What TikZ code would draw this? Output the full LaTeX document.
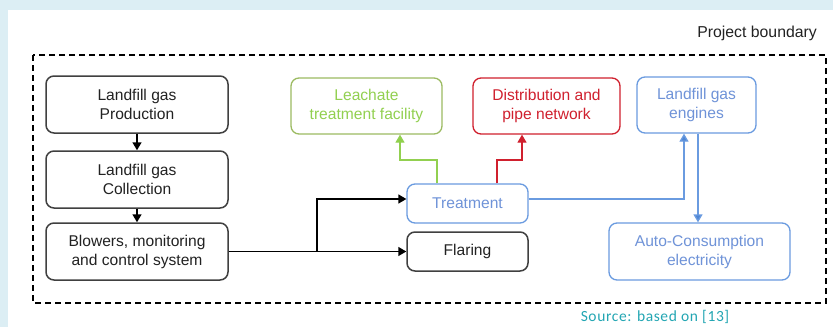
\documentclass[tikz,border=0pt]{standalone}
\usepackage{fontspec}
\setmainfont{Liberation Sans}
\newfontfamily\srcfont[LetterSpace=4]{Carlito}
\usetikzlibrary{arrows.meta,calc}
\definecolor{bgblue}{HTML}{DCEEF4}
\definecolor{grnline}{HTML}{9CBB62}
\definecolor{grntext}{HTML}{92D050}
\definecolor{grnarrow}{HTML}{8FD04A}
\definecolor{redc}{HTML}{D0202E}
\definecolor{bluel}{HTML}{6A9BE0}
\definecolor{bluet}{HTML}{6F93D8}
\definecolor{bluea}{HTML}{4F86D4}
\definecolor{srccol}{HTML}{23A6B3}
\definecolor{darkbox}{HTML}{404040}
\definecolor{txtdark}{HTML}{222222}
\tikzset{
  box/.style={draw=darkbox, text=txtdark, line width=1.5pt, rounded corners=8pt, align=center,
    font=\fontsize{15.6}{19}\selectfont, inner sep=0pt},
  grnbox/.style={box, draw=grnline, text=grntext, line width=1.3pt},
  redbox/.style={box, draw=redc, text=redc, line width=1.3pt},
  bluebox/.style={box, draw=bluel, text=bluet, line width=1.3pt},
  blk/.style={line width=1.5pt, -{Triangle[length=8pt,width=9pt]}},
  grnarr/.style={draw=grntext, line width=1.3pt, -{Triangle[length=8pt,width=9pt,fill=grnarrow]}},
  redarr/.style={draw=redc, line width=1.3pt, -{Triangle[length=8pt,width=9pt]}},
  bluearr/.style={draw=bluel, line width=1.3pt, -{Triangle[length=8pt,width=9pt,fill=bluea]}},
}
\begin{document}
\begin{tikzpicture}[x=1pt,y=-1pt]
\useasboundingbox (0,0) rectangle (833,327);
\fill[bgblue] (0,0) rectangle (833,327);
\fill[white] (8,10) rectangle (833,327);
% project boundary
\draw[line width=1.5pt, dash pattern=on 6pt off 4pt] (33,55) rectangle (826,303);
\node[anchor=east, text=txtdark, font=\fontsize{15.8}{19}\selectfont, inner sep=0pt] (pb) at (817,33) {Project boundary};
% left column
\node[box, minimum width=182pt, minimum height=57pt] (prod) at (137,104.5) {Landfill gas\\Production};
\node[box, minimum width=182pt, minimum height=57pt] (coll) at (137,179.5) {Landfill gas\\Collection};
\node[box, minimum width=182pt, minimum height=57pt] (blow) at (137,251.5) {Blowers, monitoring\\and control system};
% middle
\node[bluebox, minimum width=121pt, minimum height=39pt] (treat) at (467.5,203.5) {Treatment};
\node[box, minimum width=121pt, minimum height=39pt] (flare) at (467.5,251.5) {Flaring};
% top row
\node[grnbox, minimum width=151pt, minimum height=56pt] (leach) at (366.5,106) {Leachate\\treatment facility};
\node[redbox, minimum width=147pt, minimum height=56pt] (dist) at (546.5,106) {Distribution and\\pipe network};
\node[bluebox, minimum width=119pt, minimum height=56pt] (eng) at (696.5,105) {Landfill gas\\engines};
\node[bluebox, minimum width=181pt, minimum height=57pt] (auto) at (699.5,251.5) {Auto-Consumption\\electricity};
% source
\node[font=\srcfont\fontsize{15.5}{17}\selectfont, text=srccol, inner sep=0pt] (src) at (655,317) {Source: based on [13]};
% connectors
\draw[blk] (prod.south) -- (coll.north);
\draw[blk] (coll.south) -- (blow.north);
\draw[blk] (blow.east) -- (flare.west);
\coordinate (br) at (317,251.5);
\draw[blk] (br) |- ($(treat.west)+(0,-4.5)$);
\draw[grnarr] ($(treat.north)+(-30.5,0)$) |- (400,160) -- ($(leach.south)+(33.5,0)$);
\draw[redarr] ($(treat.north)+(29.5,0)$) |- (522,160) -- ($(dist.south)+(-24.5,0)$);
\draw[bluearr] ($(treat.east)+(0,-4.5)$) -| ($(eng.south)+(-12.5,0)$);
\draw[bluearr] ($(eng.south)+(1.5,0)$) -- ($(auto.north)+(-1.5,0)$);
\end{tikzpicture}
\end{document}
